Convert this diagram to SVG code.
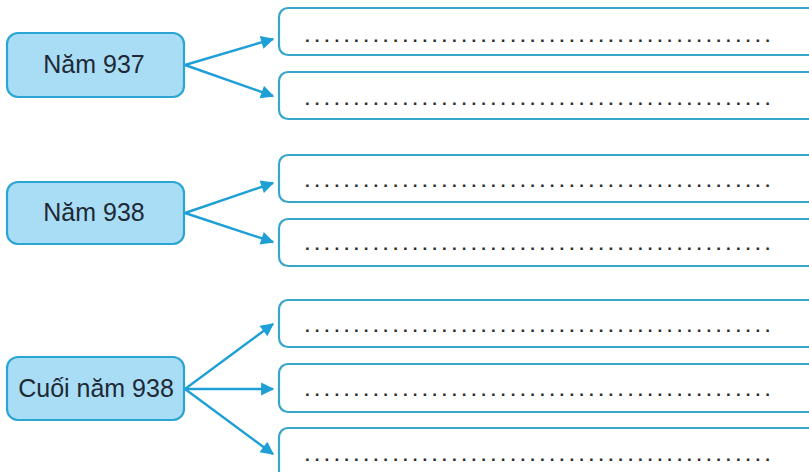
<svg xmlns="http://www.w3.org/2000/svg" width="809" height="472" viewBox="0 0 809 472">
<defs>
<style>
.node rect{fill:#a9ddf5;stroke:#2ba5d3;stroke-width:2.2}
.node text{font-family:"Liberation Sans","Open Sans",Arial,sans-serif;font-size:25px;fill:#1d2a36;text-anchor:middle}
.slot rect{fill:#ffffff;stroke:#36a6c9;stroke-width:2.2}
.slot text{font-family:"Liberation Sans",Arial,sans-serif;font-size:17px;font-weight:bold;fill:#2a2a2a}
#connectors line{stroke:#1e9fd6;stroke-width:2.4;marker-end:url(#ah)}
</style>
<marker id="ah" viewBox="0 0 10 10" refX="9" refY="5" markerWidth="6.5" markerHeight="5.5" markerUnits="strokeWidth" orient="auto">
<path d="M0,0 L10,5 L0,10 z" fill="#1e9fd6"/>
</marker>
</defs>
<rect width="809" height="472" fill="#ffffff"/>

<g id="connectors">
<line x1="185" y1="65" x2="273" y2="39"/>
<line x1="185" y1="65" x2="273" y2="96"/>
<line x1="185" y1="213" x2="273" y2="183"/>
<line x1="185" y1="213" x2="273" y2="242"/>
<line x1="185" y1="389" x2="273" y2="324"/>
<line x1="185" y1="389" x2="273" y2="389"/>
<line x1="185" y1="389" x2="273" y2="454"/>
</g>

<g id="n937" class="node"><rect x="7" y="33" width="177" height="64" rx="11"/><text x="94" y="73">Năm 937</text></g>
<g id="n938" class="node"><rect x="7" y="182" width="177" height="62" rx="11"/><text x="94" y="221">Năm 938</text></g>
<g id="ncuoi" class="node"><rect x="7" y="357" width="177" height="63" rx="11"/><text x="96" y="397">Cuối năm 938</text></g>

<g id="s1" class="slot"><rect x="279" y="8" width="540" height="47" rx="9"/><text x="305" y="42" textLength="465" lengthAdjust="spacing">................................................</text></g>
<g id="s2" class="slot"><rect x="279" y="72" width="540" height="47" rx="9"/><text x="305" y="105" textLength="465" lengthAdjust="spacing">................................................</text></g>
<g id="s3" class="slot"><rect x="279" y="155" width="540" height="47" rx="9"/><text x="305" y="187" textLength="465" lengthAdjust="spacing">................................................</text></g>
<g id="s4" class="slot"><rect x="279" y="219" width="540" height="47" rx="9"/><text x="305" y="250" textLength="465" lengthAdjust="spacing">................................................</text></g>
<g id="s5" class="slot"><rect x="279" y="300" width="540" height="47" rx="9"/><text x="305" y="332" textLength="465" lengthAdjust="spacing">................................................</text></g>
<g id="s6" class="slot"><rect x="279" y="364" width="540" height="48" rx="9"/><text x="305" y="396" textLength="465" lengthAdjust="spacing">................................................</text></g>
<g id="s7" class="slot"><rect x="279" y="428" width="540" height="60" rx="9"/><text x="305" y="461" textLength="465" lengthAdjust="spacing">................................................</text></g>
</svg>
